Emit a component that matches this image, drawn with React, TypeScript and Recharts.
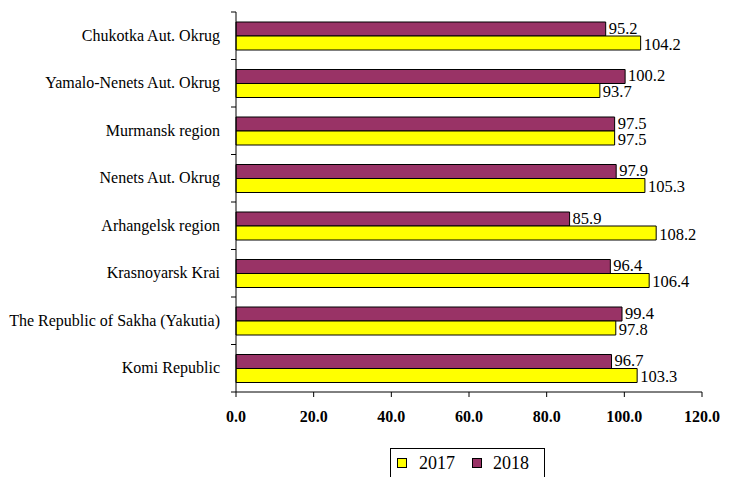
import { BarChart, Bar, XAxis, YAxis, Legend, LabelList } from 'recharts';

const regions = [
  'Chukotka Aut. Okrug',
  'Yamalo-Nenets Aut. Okrug',
  'Murmansk region',
  'Nenets Aut. Okrug',
  'Arhangelsk region',
  'Krasnoyarsk Krai',
  'The Republic of Sakha (Yakutia)',
  'Komi Republic',
];
const values2017 = [104.2, 93.7, 97.5, 105.3, 108.2, 106.4, 97.8, 103.3];
const values2018 = [95.2, 100.2, 97.5, 97.9, 85.9, 96.4, 99.4, 96.7];
const xTicks = [0, 20, 40, 60, 80, 100, 120];

const data = regions.map((name, i) => ({ name, y2017: values2017[i], y2018: values2018[i] }));

const FONT = '"Liberation Serif", "Times New Roman", serif';
const YELLOW = '#FFFF00';
const MAROON = '#993366';
const PLOT_TOP = 12;
const PLOT_BOTTOM = 392;

// category ticks sit between the bands, labels stay centred on the band
const CategoryTick = (props: any) => {
  const { x, y, payload, index } = props;
  const step = (PLOT_BOTTOM - PLOT_TOP) / regions.length;
  const axisX = 236;
  return (
    <g>
      <line x1={axisX - 5} x2={axisX} y1={y - step / 2} y2={y - step / 2} stroke="#000" />
      {index === regions.length - 1 && (
        <line x1={axisX - 5} x2={axisX} y1={y + step / 2} y2={y + step / 2} stroke="#000" />
      )}
      <text x={x} y={y} dy={5} textAnchor="end" style={{ fontFamily: FONT }} fontSize={16} fill="#000">
        {payload.value}
      </text>
    </g>
  );
};

const swatch = (color: string, ml: number) => (
  <span
    style={{
      width: 10,
      height: 10,
      boxSizing: 'border-box',
      background: color,
      border: '1px solid #000',
      marginLeft: ml,
      flex: 'none',
    }}
  />
);

const LegendBox = () => (
  <div
    style={{
      width: 155,
      height: 30,
      border: '1px solid #000',
      boxSizing: 'border-box',
      display: 'flex',
      alignItems: 'center',
      fontFamily: FONT,
      fontSize: 18,
      color: '#000',
      background: '#fff',
    }}
  >
    {swatch(YELLOW, 6)}
    <span style={{ marginLeft: 12 }}>2017</span>
    {swatch(MAROON, 17)}
    <span style={{ marginLeft: 11 }}>2018</span>
  </div>
);

const fmt = (v: any) => Number(v).toFixed(1);

export default function App() {
  return (
    <div style={{ position: 'absolute', left: 0, top: 0, width: 730, height: 477, background: '#fff', fontFamily: FONT }}>
      <BarChart
        width={730}
        height={477}
        data={data}
        layout="vertical"
        margin={{ top: PLOT_TOP, right: 28, bottom: 25, left: 0 }}
        barSize={14}
        barGap={0}
      >
        <XAxis
          type="number"
          domain={[0, 120]}
          ticks={xTicks}
          tickFormatter={(v: number) => v.toFixed(1)}
          axisLine={{ stroke: '#000' }}
          tickLine={{ stroke: '#000' }}
          tickSize={5}
          tickMargin={14}
          height={30}
          tick={{ fontFamily: FONT, fontSize: 16, fontWeight: 700, fill: '#000' }}
        />
        <YAxis
          type="category"
          dataKey="name"
          width={236}
          axisLine={{ stroke: '#000' }}
          tickLine={false}
          tickSize={4}
          tickMargin={12}
          tick={<CategoryTick />}
          interval={0}
        />
        <Legend
          content={<LegendBox />}
          wrapperStyle={{ left: 390, top: 448, width: 155, height: 30 }}
        />
        <Bar dataKey="y2018" name="2018" fill={MAROON} stroke="#000" strokeWidth={1} isAnimationActive={false}>
          <LabelList
            dataKey="y2018"
            position="right"
            offset={3}
            dy={-1}
            formatter={fmt}
            style={{ fontFamily: FONT, fontSize: 16.5, fill: '#000' }}
          />
        </Bar>
        <Bar dataKey="y2017" name="2017" fill={YELLOW} stroke="#000" strokeWidth={1} isAnimationActive={false}>
          <LabelList
            dataKey="y2017"
            position="right"
            offset={3}
            dy={1}
            formatter={fmt}
            style={{ fontFamily: FONT, fontSize: 16.5, fill: '#000' }}
          />
        </Bar>
      </BarChart>
    </div>
  );
}
